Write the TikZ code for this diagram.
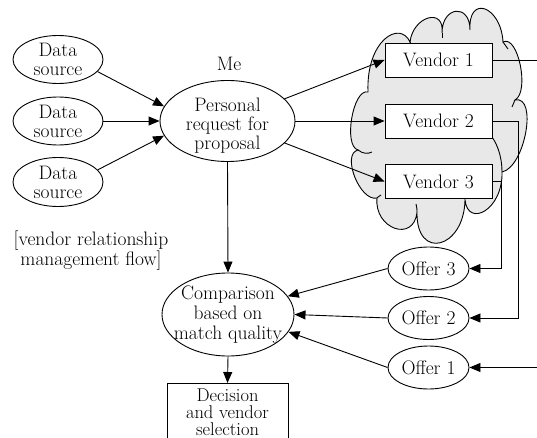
\documentclass[tikz,border=0pt]{standalone}
\usepackage{fontspec}
\usetikzlibrary{arrows.meta,shapes.geometric}
\definecolor{cloudgray}{RGB}{232,232,232}
\tikzset{
  base/.style={font=\fontsize{19.5}{19}\selectfont, align=center},
  oval/.style={base, draw, ellipse, inner xsep=-12pt, inner ysep=-6pt, line width=0.9pt},
  vbox/.style={base, draw, fill=white, rectangle, line width=0.9pt,
               minimum width=107pt, minimum height=34pt, inner sep=0pt},
  link/.style={line width=0.9pt, -{Triangle[length=11pt,width=9pt]}},
  plain/.style={line width=0.9pt},
}
\begin{document}
\begin{tikzpicture}[x=1pt,y=-1pt]
\clip (0,0) rectangle (537,438);

% vendor cloud
\draw[fill=cloudgray, line width=0.9pt]
  (368,92) .. controls (366,40) and (400,20) .. (410,42)
  .. controls (413,16) and (445,7) .. (442,33)
  .. controls (442,6) and (470,3) .. (470,30)
  .. controls (468,-6) and (501,6) .. (503,42)
  .. controls (518,34) and (530,92) .. (515,100)
  .. controls (538,95) and (525,167) .. (502,172)
  .. controls (503,210) and (468,228) .. (465,200)
  .. controls (464,249) and (416,261) .. (417,212)
  .. controls (414,243) and (374,229) .. (377,198)
  .. controls (360,202) and (341,154) .. (358,150)
  .. controls (343,146) and (353,88) .. cycle;
% inner strokes of the cloud
\draw[plain] (358,150) .. controls (363,154) and (368,154) .. (372,152);
\draw[plain] (377,198) .. controls (378,197) .. (381,195);
\draw[plain] (417,212) .. controls (417,209) .. (416,204);
\draw[plain] (492,137) .. controls (499,147) and (502,160) .. (502,172);
\draw[plain] (442,33) -- (442,38);
\draw[plain] (410,42) -- (412,46);
\draw[plain] (515,100) -- (512,107);
\draw[plain] (503,42) .. controls (505,45) .. (508,49);

% data sources and request
\node[oval, minimum width=90pt, minimum height=48pt] (ds1) at (58,59.5) {Data\\source};
\node[oval, minimum width=90pt, minimum height=48pt] (ds2) at (58,121) {Data\\source};
\node[oval, minimum width=90pt, minimum height=49pt] (ds3) at (58,182) {Data\\source};

\node[base] (me) at (229,63.5) {Me};
\node[oval, minimum width=135pt, minimum height=81pt] (pr) at (227.5,121)
  {\rule{0pt}{22pt}Personal\\request for\\proposal};

\node[base] (lbl) at (91,250.5) {[vendor relationship\\management flow]};

% vendors
\node[vbox] (v1) at (438.5,60) {Vendor 1};
\node[vbox] (v2) at (438.5,121) {Vendor 2};
\node[vbox] (v3) at (438.5,181.5) {Vendor 3};

% offers
\node[oval, minimum width=81pt, minimum height=43pt] (o3) at (428.5,268.5) {Offer 3};
\node[oval, minimum width=81pt, minimum height=43pt] (o2) at (428.5,318) {Offer 2};
\node[oval, minimum width=81pt, minimum height=43pt] (o1) at (428.5,367.5) {Offer 1};

% comparison and decision
\node[oval, minimum width=132pt, minimum height=83pt,
      font=\fontsize{19.5}{19.7}\selectfont] (cmp) at (228,314.5)
  {Comparison\\based on\\match quality};
\node[base, draw, rectangle, line width=0.9pt, anchor=north, minimum width=121pt,
      inner xsep=0pt, inner ysep=5pt, text depth=16pt,
      font=\fontsize{18.5}{17}\selectfont] (dec) at (227.5,383)
  {Decision\\and vendor\\selection};

% connectors
\draw[link] (ds1.-17) -- (pr.167);
\draw[link] (ds2) -- (pr);
\draw[link] (ds3.17) -- (pr.193);

\draw[link] (pr) -- (v1.west);
\draw[link] (pr) -- (v2.west);
\draw[link] (pr) -- (v3.west);

\draw[link] (pr.south) -- (cmp.north);
\draw[link] (cmp.south) -- (dec.north);

\coordinate (k1) at (580,60);
\coordinate (k2) at (518.5,121);
\coordinate (k3) at (501.5,181.5);
\draw[link] (v1.east) -- (k1) |- (o1.east);
\draw[link] (v2.east) -- (k2) |- (o2.east);
\draw[link] (v3.east) -- (k3) |- (o3.east);

\draw[link] (o3.west) -- (cmp.17);
\draw[link] (o2.west) -- (cmp.east);
\draw[link] (o1.west) -- (cmp.-16);
\end{tikzpicture}
\end{document}
